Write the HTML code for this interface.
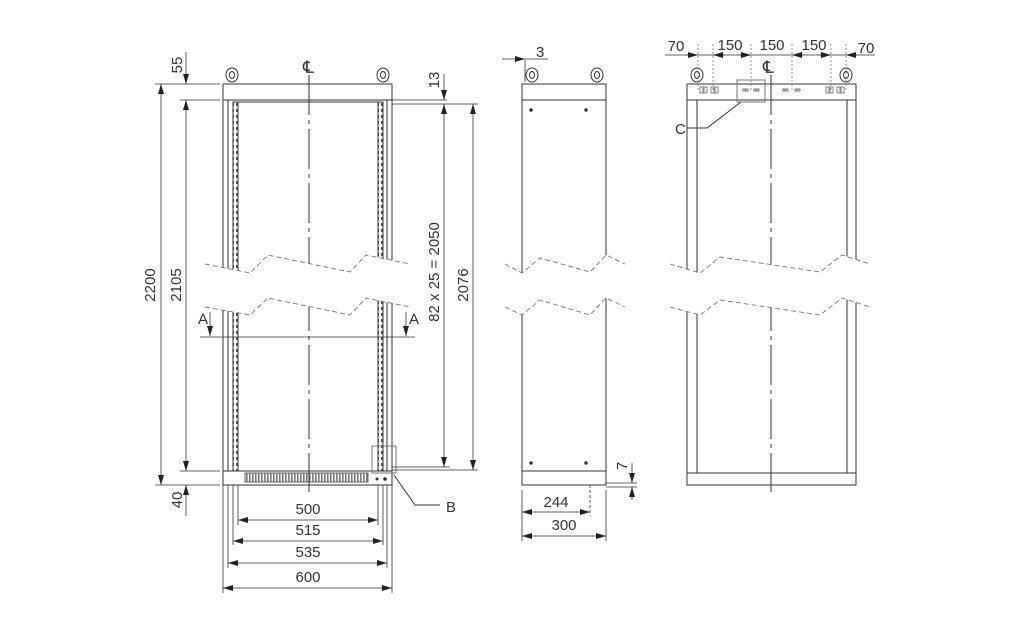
<!DOCTYPE html>
<html><head><meta charset="utf-8"><style>
html,body{margin:0;padding:0;background:#fff;}
svg{display:block;font-family:"Liberation Sans",sans-serif;}
</style></head><body>
<svg width="1024" height="628" viewBox="0 0 1024 628" xmlns="http://www.w3.org/2000/svg">
<defs>
<marker id="a" viewBox="0 0 10 6" refX="10" refY="3" markerWidth="10" markerHeight="6" orient="auto-start-reverse" markerUnits="userSpaceOnUse"><path d="M0,0L10,3L0,6z" fill="#222"/></marker>
<pattern id="holes" width="5" height="6" patternUnits="userSpaceOnUse"><rect width="5" height="6" fill="#fff"/><rect x="1" y="1" width="3" height="3" fill="#555"/></pattern>
<pattern id="vent" width="3" height="10" patternUnits="userSpaceOnUse"><rect width="3" height="10" fill="#fff"/><rect x="0" y="0" width="1.6" height="10" fill="#777"/></pattern>
</defs>
<g stroke="#333" stroke-width="1" fill="none">
<!-- FRONT VIEW -->
<rect x="223" y="84" width="169" height="16"/>
<line x1="223" y1="100" x2="223" y2="485"/><line x1="392" y1="100" x2="392" y2="485"/>
<line x1="228" y1="100" x2="228" y2="471"/><line x1="387" y1="100" x2="387" y2="471"/>
<rect x="233" y="102" width="5" height="369" fill="url(#holes)"/>
<rect x="378" y="102" width="5" height="369" fill="url(#holes)"/>
<line x1="238" y1="102" x2="378" y2="102"/>
<rect x="223" y="471" width="169" height="14"/>
<rect x="245" y="473" width="123" height="9" fill="url(#vent)" stroke="#666"/>
<circle cx="377" cy="479" r="1" fill="#222"/><circle cx="385" cy="479" r="1.3" fill="#222"/>
<ellipse cx="232" cy="75" rx="6" ry="7"/><ellipse cx="232" cy="75" rx="2.5" ry="3.5"/>
<ellipse cx="383" cy="75" rx="6" ry="7"/><ellipse cx="383" cy="75" rx="2.5" ry="3.5"/>
<line x1="309" y1="75" x2="309" y2="492" stroke-dasharray="40,5,4,5"/>
<rect x="372" y="446" width="24" height="27" stroke="#777"/>
<polyline points="394,475 415,505 440,505"/>
<!-- SIDE VIEW -->
<rect x="522" y="84" width="84" height="16"/>
<line x1="522" y1="100" x2="522" y2="471"/><line x1="606" y1="100" x2="606" y2="471"/>
<rect x="522" y="471" width="84" height="14"/>
<ellipse cx="532" cy="75" rx="6" ry="7"/><ellipse cx="532" cy="75" rx="2.5" ry="3.5"/>
<ellipse cx="597" cy="75" rx="6" ry="7"/><ellipse cx="597" cy="75" rx="2.5" ry="3.5"/>
<circle cx="531" cy="110" r="1.2" fill="#222"/><circle cx="586" cy="110" r="1.2" fill="#222"/>
<circle cx="531" cy="463" r="1.2" fill="#222"/><circle cx="586" cy="463" r="1.2" fill="#222"/>
<!-- BACK VIEW -->
<rect x="687" y="84" width="169" height="16"/>
<line x1="687" y1="100" x2="687" y2="485"/><line x1="856" y1="100" x2="856" y2="485"/>
<line x1="697" y1="100" x2="697" y2="473"/><line x1="847" y1="100" x2="847" y2="473"/>
<rect x="687" y="473" width="169" height="12"/>
<ellipse cx="697" cy="75" rx="6" ry="7"/><ellipse cx="697" cy="75" rx="2.5" ry="3.5"/>
<ellipse cx="846" cy="75" rx="6" ry="7"/><ellipse cx="846" cy="75" rx="2.5" ry="3.5"/>
<line x1="771" y1="75" x2="771" y2="492" stroke-dasharray="40,5,4,5"/>
<rect x="737" y="80" width="28" height="22" stroke="#777"/>
<polyline points="741,102 707,128 687,128"/>
<g stroke="#666" stroke-width="0.8">
<rect x="700" y="87" width="3" height="6"/><rect x="704" y="87" width="3" height="6"/><rect x="711" y="87" width="3" height="6"/><rect x="715" y="87" width="3" height="6"/>
<rect x="826" y="87" width="3" height="6"/><rect x="830" y="87" width="3" height="6"/><rect x="837" y="87" width="3" height="6"/><rect x="841" y="87" width="3" height="6"/>
<circle cx="744" cy="90" r="1.2"/><circle cx="747" cy="90" r="1.2"/><circle cx="755" cy="90" r="1.2"/><circle cx="758" cy="90" r="1.2"/>
<circle cx="784" cy="90" r="1.2"/><circle cx="787" cy="90" r="1.2"/><circle cx="796" cy="90" r="1.2"/><circle cx="799" cy="90" r="1.2"/>
</g>
</g>
<!-- BREAKS -->
<g fill="#fff" stroke="none">
<polygon points="205,264 250,273 268,255 350,272 366,255 410,264 410,307 366,298 350,315 268,298 250,315 205,307"/>
<polygon points="505,264 522,273 540,258 590,272 606,255 625,264 625,307 606,298 590,315 540,300 522,315 505,307"/>
<polygon points="670,264 700,273 720,257 820,272 842,255 870,264 870,307 842,298 820,315 720,300 700,315 670,307"/>
</g>
<g fill="none" stroke="#777" stroke-dasharray="5,3" stroke-width="0.9">
<polyline points="205,264 250,273 268,255 350,272 366,255 410,264"/>
<polyline points="205,307 250,315 268,298 350,315 366,298 410,307"/>
<polyline points="505,264 522,273 540,258 590,272 606,255 625,264"/>
<polyline points="505,307 522,315 540,300 590,315 606,298 625,307"/>
<polyline points="670,264 700,273 720,257 820,272 842,255 870,264"/>
<polyline points="670,307 700,315 720,300 820,315 842,298 870,307"/>
</g>
<!-- DIMENSIONS -->
<g stroke="#333" stroke-width="0.8" fill="none">
<line x1="155" y1="84" x2="220" y2="84"/><line x1="155" y1="485" x2="220" y2="485"/>
<line x1="180" y1="100" x2="220" y2="100"/><line x1="180" y1="471" x2="220" y2="471"/>
<line x1="161" y1="84" x2="161" y2="485" marker-start="url(#a)" marker-end="url(#a)"/>
<line x1="186" y1="100" x2="186" y2="471" marker-start="url(#a)" marker-end="url(#a)"/>
<line x1="186" y1="52" x2="186" y2="84" marker-end="url(#a)"/>
<line x1="186" y1="516" x2="186" y2="485" marker-end="url(#a)"/>
<line x1="392" y1="104" x2="478" y2="104"/><line x1="392" y1="100" x2="447" y2="100"/>
<line x1="392" y1="467" x2="450" y2="467"/><line x1="392" y1="470" x2="478" y2="470"/>
<line x1="444" y1="74" x2="444" y2="100" marker-end="url(#a)"/>
<line x1="444" y1="104" x2="444" y2="467" marker-start="url(#a)" marker-end="url(#a)"/>
<line x1="473" y1="104" x2="473" y2="470" marker-start="url(#a)" marker-end="url(#a)"/>
<line x1="200" y1="337" x2="415" y2="337"/>
<line x1="210" y1="312" x2="210" y2="336" marker-end="url(#a)"/>
<line x1="406" y1="312" x2="406" y2="336" marker-end="url(#a)"/>
<line x1="238" y1="485" x2="238" y2="525"/><line x1="378" y1="485" x2="378" y2="525"/>
<line x1="233" y1="485" x2="233" y2="545"/><line x1="383" y1="485" x2="383" y2="545"/>
<line x1="228" y1="485" x2="228" y2="568"/><line x1="387" y1="485" x2="387" y2="568"/>
<line x1="223" y1="485" x2="223" y2="593"/><line x1="392" y1="485" x2="392" y2="593"/>
<line x1="238" y1="520" x2="378" y2="520" marker-start="url(#a)" marker-end="url(#a)"/>
<line x1="233" y1="541" x2="383" y2="541" marker-start="url(#a)" marker-end="url(#a)"/>
<line x1="228" y1="563" x2="387" y2="563" marker-start="url(#a)" marker-end="url(#a)"/>
<line x1="223" y1="588" x2="392" y2="588" marker-start="url(#a)" marker-end="url(#a)"/>
<!-- side dims -->
<line x1="522" y1="490" x2="522" y2="541"/><line x1="606" y1="490" x2="606" y2="541"/>
<line x1="590" y1="485" x2="590" y2="516" stroke-dasharray="3,2"/>
<line x1="522" y1="512" x2="590" y2="512" marker-start="url(#a)" marker-end="url(#a)"/>
<line x1="522" y1="536" x2="606" y2="536" marker-start="url(#a)" marker-end="url(#a)"/>
<line x1="525" y1="60" x2="525" y2="82"/>
<line x1="502" y1="59" x2="525" y2="59" marker-end="url(#a)"/>
<line x1="525" y1="59" x2="548" y2="59"/>
<line x1="606" y1="483" x2="637" y2="483"/><line x1="606" y1="487" x2="637" y2="487"/>
<line x1="632" y1="463" x2="632" y2="483" marker-end="url(#a)"/>
<line x1="632" y1="500" x2="632" y2="487" marker-end="url(#a)"/>
<!-- back top dims -->
<line x1="665" y1="55" x2="875" y2="55"/>
<g stroke-dasharray="2,2" stroke="#777"><line x1="698" y1="44" x2="698" y2="90"/><line x1="713" y1="44" x2="713" y2="90"/><line x1="751" y1="44" x2="751" y2="90"/><line x1="792" y1="44" x2="792" y2="90"/><line x1="831" y1="44" x2="831" y2="90"/><line x1="846" y1="44" x2="846" y2="90"/></g>
<line x1="685" y1="55" x2="698" y2="55" marker-end="url(#a)"/>
<line x1="725" y1="55" x2="713" y2="55" marker-end="url(#a)"/>
<line x1="738" y1="55" x2="751" y2="55" marker-end="url(#a)"/>
<line x1="805" y1="55" x2="792" y2="55" marker-end="url(#a)"/>
<line x1="818" y1="55" x2="831" y2="55" marker-end="url(#a)"/>
<line x1="858" y1="55" x2="846" y2="55" marker-end="url(#a)"/>
</g>
<g fill="#333" font-size="15">
<text x="303" y="73" font-size="17">℄</text>
<text x="763" y="73" font-size="17">℄</text>
<text transform="translate(155,285) rotate(-90)" text-anchor="middle">2200</text>
<text transform="translate(181,285) rotate(-90)" text-anchor="middle">2105</text>
<text transform="translate(182,65) rotate(-90)" text-anchor="middle">55</text>
<text transform="translate(182,500) rotate(-90)" text-anchor="middle">40</text>
<text transform="translate(439,80) rotate(-90)" text-anchor="middle">13</text>
<text transform="translate(439,272) rotate(-90)" text-anchor="middle">82 x 25 = 2050</text>
<text transform="translate(468,285) rotate(-90)" text-anchor="middle">2076</text>
<text x="203" y="324" text-anchor="middle">A</text>
<text x="414" y="324" text-anchor="middle">A</text>
<text x="446" y="512">B</text>
<text x="675" y="134">C</text>
<text x="308" y="514" text-anchor="middle">500</text>
<text x="308" y="535" text-anchor="middle">515</text>
<text x="308" y="557" text-anchor="middle">535</text>
<text x="308" y="582" text-anchor="middle">600</text>
<text x="556" y="507" text-anchor="middle">244</text>
<text x="564" y="530" text-anchor="middle">300</text>
<text x="536" y="57">3</text>
<text transform="translate(627,466) rotate(-90)" text-anchor="middle">7</text>
<text x="676" y="51" text-anchor="middle">70</text>
<text x="730" y="50" text-anchor="middle">150</text>
<text x="772" y="50" text-anchor="middle">150</text>
<text x="814" y="50" text-anchor="middle">150</text>
<text x="866" y="53" text-anchor="middle">70</text>
</g>
</svg>
</body></html>
